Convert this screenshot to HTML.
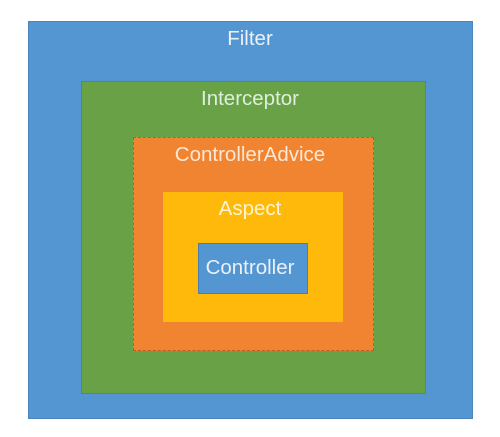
<!DOCTYPE html>
<html><head><style>
body{margin:0;width:500px;height:437px;background:#fff;position:relative;overflow:hidden;font-family:"Liberation Sans",sans-serif}
.b{position:absolute;box-sizing:border-box}
.t{position:absolute;left:0;right:0;text-align:center;color:#eaf1f8;font-size:20.5px}
</style></head><body>
<div class="b" style="left:28px;top:21px;width:445px;height:398px;background:#5496d2;border:1px solid #4a85bb"></div>
<div class="t" style="top:27px">Filter</div>
<div class="b" style="left:81px;top:81px;width:345px;height:313px;background:#69a246;border:1px solid #5a8f3c"></div>
<div class="t" style="top:87px;color:#dfeedd">Interceptor</div>
<div class="b" style="left:133px;top:137px;width:241px;height:214px;background:#f08431;border:1px dashed #b8602a"></div>
<div class="t" style="top:143px;color:#fde7d6">ControllerAdvice</div>
<div class="b" style="left:163px;top:192px;width:180px;height:130px;background:#feb90a"></div>
<div class="t" style="top:197px;color:#fff3d0">Aspect</div>
<div class="b" style="left:198px;top:243px;width:110px;height:51px;background:#5496d2;border:1px solid #4a7db0"></div>
<div class="t" style="top:256px">Controller</div>
</body></html>
